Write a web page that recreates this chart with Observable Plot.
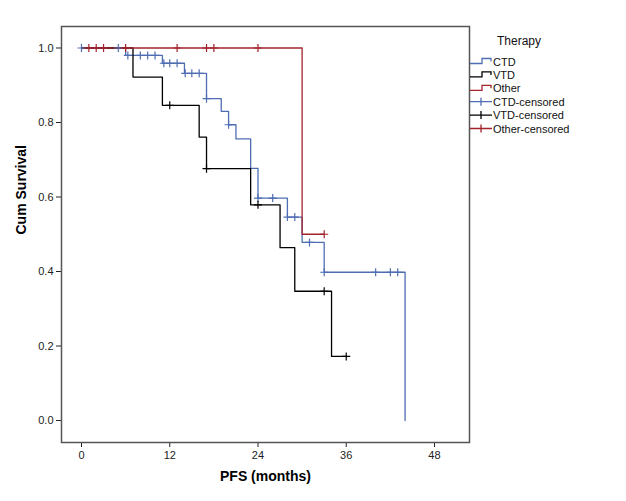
<!DOCTYPE html>
<html>
<head>
<meta charset="utf-8">
<script src="https://cdn.jsdelivr.net/npm/d3@7"></script>
<script src="https://cdn.jsdelivr.net/npm/@observablehq/plot@0.6"></script>
<style>
  html, body { margin: 0; padding: 0; background: #fff; }
  #chart { width: 626px; height: 501px; }
</style>
</head>
<body>
<div id="chart"></div>
<script>
// ---- Data ----
const seriesNames = ["CTD", "VTD", "Other"];
const legendTitle = "Therapy";
const legendLabels = ["CTD", "VTD", "Other", "CTD-censored", "VTD-censored", "Other-censored"];

const ctdTimes = [0, 6, 11, 14, 17, 19, 20, 21, 23, 24, 28, 30, 33, 44];
const ctdSurv  = [1, 0.98, 0.959, 0.932, 0.864, 0.830, 0.794, 0.756, 0.677, 0.597, 0.546, 0.478, 0.398, 0];
const ctdCensTimes = [0, 5, 6.3, 8, 9, 10, 11.2, 12, 13, 14.1, 15, 16, 17, 20, 24, 26, 28, 29, 31, 33, 40, 42, 43];
const ctdCensSurv  = [1, 1, 0.98, 0.98, 0.98, 0.98, 0.959, 0.959, 0.959, 0.932, 0.932, 0.932, 0.864, 0.794, 0.597, 0.597, 0.546, 0.546, 0.478, 0.398, 0.398, 0.398, 0.398];

const vtdTimes = [0, 7, 11, 16, 17, 23, 27, 29, 34, 36];
const vtdSurv  = [1, 0.922, 0.846, 0.761, 0.676, 0.579, 0.464, 0.347, 0.172, 0.172];
const vtdCensTimes = [12, 17, 24, 33, 36];
const vtdCensSurv  = [0.846, 0.676, 0.579, 0.347, 0.172];

const otherTimes = [0, 30, 33];
const otherSurv  = [1, 0.5, 0.5];
const otherCensTimes = [1, 2, 3, 6, 13, 17, 18, 24, 33];
const otherCensSurv  = [1, 1, 1, 1, 1, 1, 1, 1, 0.5];

const xTicks = [0, 12, 24, 36, 48];
const yTicks = [0, 0.2, 0.4, 0.6, 0.8, 1.0];
const xLabel = "PFS (months)";
const yLabel = "Cum Survival";

// ---- Build tables ----
const colors = {CTD: "#4f6db3", VTD: "#000000", Other: "#a3232d"};
const toRows = (ts, ss) => ts.map((t, i) => ({t, s: ss[i]}));
const lines = {
  CTD: toRows(ctdTimes, ctdSurv),
  VTD: toRows(vtdTimes, vtdSurv),
  Other: toRows(otherTimes, otherSurv)
};
const cens = {
  CTD: toRows(ctdCensTimes, ctdCensSurv),
  VTD: toRows(vtdCensTimes, vtdCensSurv),
  Other: toRows(otherCensTimes, otherCensSurv)
};

const plusSymbol = {
  draw(context, size) {
    const r = Math.sqrt(size / Math.PI);
    context.moveTo(-r, 0); context.lineTo(r, 0);
    context.moveTo(0, -r); context.lineTo(0, r);
  }
};

const font = "'Liberation Sans', Arial, Helvetica, sans-serif";

const svg = Plot.plot({
  width: 626,
  height: 501,
  marginLeft: 61,
  marginRight: 157,
  marginTop: 26,
  marginBottom: 59,
  style: {fontFamily: font, fontSize: "11px", color: "#222", background: "#fff"},
  x: {domain: [-2.72, 52.76], ticks: xTicks, tickSize: 5, tickPadding: 4, label: null},
  y: {domain: [-0.059, 1.0577], ticks: yTicks, tickFormat: d3.format(".1f"), tickSize: 5, tickPadding: 3, label: null},
  marks: [
    ...seriesNames.map(k => Plot.line(lines[k], {x: "t", y: "s", curve: "step-after", stroke: colors[k], strokeWidth: 1.3})),
    ...seriesNames.map(k => Plot.dot(cens[k], {x: "t", y: "s", symbol: plusSymbol, r: 4, stroke: colors[k], fill: "none", strokeWidth: 1.2})),
    Plot.frame({stroke: "#555", strokeWidth: 1.5}),
    Plot.text([yLabel], {frameAnchor: "left", rotate: -90, dx: -40, fontWeight: "bold", fontSize: 14, fill: "#000"}),
    Plot.text([xLabel], {frameAnchor: "bottom", dy: 38, fontWeight: "bold", fontSize: 14, fill: "#000"})
  ]
});

// ---- Legend ----
const lg = d3.select(svg).append("g").attr("font-family", font).attr("fill", "#111").attr("text-anchor", "start");
lg.append("text").attr("x", 519).attr("y", 45).attr("text-anchor", "middle").attr("font-size", 12).text(legendTitle);
legendLabels.forEach((lab, i) => {
  const y = 61.5 + 13.4 * i;
  const key = seriesNames[i % 3];
  const c = colors[key];
  if (i < 3) {
    lg.append("path")
      .attr("d", `M470,${y + 2}H482V${y - 3}H491V${y}`)
      .attr("fill", "none").attr("stroke", c).attr("stroke-width", 1.3);
  } else {
    lg.append("path")
      .attr("d", `M470,${y}H492M481,${y - 4}V${y + 4}`)
      .attr("fill", "none").attr("stroke", c).attr("stroke-width", 1.3);
  }
  lg.append("text").attr("x", 493).attr("y", y + 4).attr("text-anchor", "start").attr("font-size", 11).text(lab);
});

document.getElementById("chart").appendChild(svg);
</script>
</body>
</html>
